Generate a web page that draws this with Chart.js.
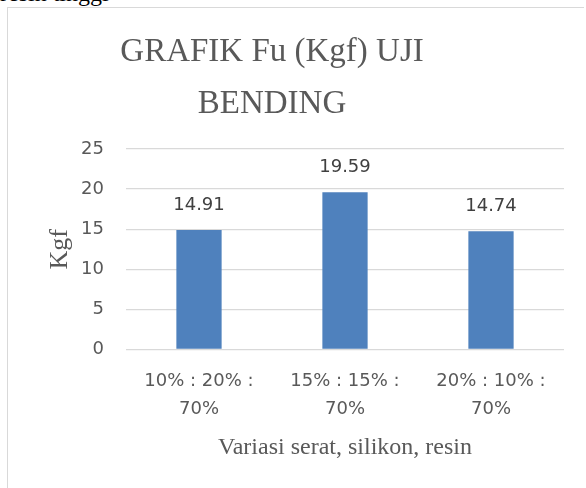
<!DOCTYPE html>
<html>
<head>
<meta charset="utf-8">
<script src="https://cdn.jsdelivr.net/npm/chart.js@4"></script>
<style>
  body { margin: 0; background: #fff; }
  #wrap { position: relative; width: 586px; height: 488px; overflow: hidden; }
  #topText { position: absolute; left: 0; top: -20px; font: 24px "Liberation Serif", serif; color: #000; white-space: nowrap; }
  #frame { position: absolute; left: 7px; top: 7px; width: 576px; height: 500px; border-left: 1px solid #d9d9d9; border-top: 1px solid #d9d9d9; }
  #c { position: absolute; left: 0; top: 0; }
</style>
</head>
<body>
<div id="wrap">
  <div id="topText">resin tinggi</div>
  <div id="frame"></div>
  <canvas id="c" width="586" height="488"></canvas>
</div>
<script>
// data
const categories = [['10% : 20% :', '70%'], ['15% : 15% :', '70%'], ['20% : 10% :', '70%']];
const fuValues = [14.91, 19.59, 14.74];
const yTicks = [0, 5, 10, 15, 20, 25];
const titleLines = ['GRAFIK Fu (Kgf) UJI', 'BENDING'];

const sansFont = '"DejaVu Sans", sans-serif';
const serifFont = 'Liberation Serif';

// value labels above bars
const barLabels = {
    id: 'barLabels',
    afterDatasetsDraw(chart) {
        const ctx = chart.ctx;
        const meta = chart.getDatasetMeta(0);
        ctx.save();
        ctx.font = '18px ' + sansFont;
        ctx.fillStyle = '#404040';
        ctx.textAlign = 'center';
        ctx.textBaseline = 'middle';
        meta.data.forEach((bar, i) => {
            ctx.fillText(fuValues[i].toFixed(2), bar.x, bar.y - 25);
        });
        ctx.restore();
    }
};

// chart title, centred on the frame rather than the canvas
const frameTitle = {
    id: 'frameTitle',
    afterDraw(chart) {
        const ctx = chart.ctx;
        ctx.save();
        ctx.font = '33px "Liberation Serif", serif';
        ctx.fillStyle = '#595959';
        ctx.textAlign = 'center';
        ctx.textBaseline = 'alphabetic';
        titleLines.forEach((line, i) => {
            ctx.fillText(line, 272, 61 + i * 52);
        });
        ctx.restore();
    }
};

new Chart(document.getElementById('c'), {
    type: 'bar',
    data: {
        labels: categories,
        datasets: [{
            data: fuValues,
            backgroundColor: '#4f81bd',
            borderWidth: 0,
            barPercentage: 0.31,
            categoryPercentage: 1
        }]
    },
    options: {
        responsive: false,
        animation: false,
        layout: { padding: { left: 45, right: 22, top: 149, bottom: 0 } },
        plugins: {
            legend: { display: false },
            tooltip: { enabled: false },
            title: { display: false }
        },
        scales: {
            x: {
                grid: { display: false, drawTicks: false },
                border: { display: false },
                ticks: {
                    color: '#595959',
                    font: { family: sansFont, size: 18, lineHeight: 1.55 },
                    padding: 18,
                    maxRotation: 0,
                    autoSkip: false
                },
                title: {
                    display: true,
                    text: 'Variasi serat, silikon, resin',
                    color: '#595959',
                    font: { family: serifFont, size: 24 },
                    padding: { top: -8, bottom: 26 }
                }
            },
            y: {
                min: 0,
                max: 25,
                afterBuildTicks(scale) {
                    scale.ticks = yTicks.map(v => ({ value: v }));
                },
                afterFit(scale) {
                    scale.width = 81;
                },
                grid: { color: '#d9d9d9', lineWidth: 1.3, drawTicks: false },
                border: { display: false },
                ticks: {
                    color: '#595959',
                    font: { family: sansFont, size: 18 },
                    padding: 22
                },
                title: {
                    display: true,
                    text: 'Kgf',
                    color: '#595959',
                    font: { family: serifFont, size: 26 },
                    padding: { top: 0, bottom: 0 }
                }
            }
        }
    },
    plugins: [barLabels, frameTitle]
});
</script>
</body>
</html>
